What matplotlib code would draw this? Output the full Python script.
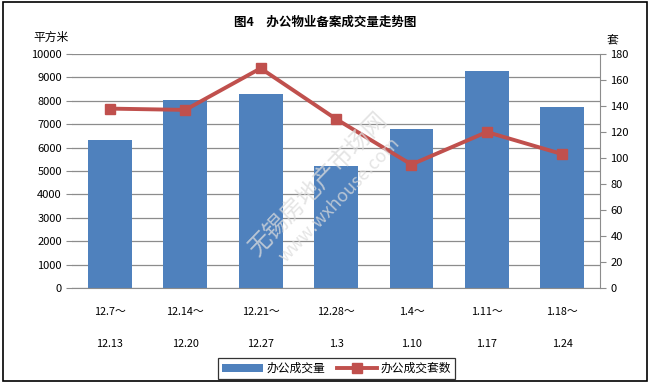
import numpy as np
import matplotlib
matplotlib.use('Agg')
import matplotlib.pyplot as plt
from matplotlib.patches import Rectangle

plt.rcParams['font.family'] = ['Noto Sans CJK SC', 'DejaVu Sans']

WEEK_START = ['12.7～', '12.14～', '12.21～', '12.28～', '1.4～', '1.11～', '1.18～']
WEEK_END = ['12.13', '12.20', '12.27', '1.3', '1.10', '1.17', '1.24']
AREA = [6330, 8050, 8280, 5230, 6790, 9290, 7730]      # 办公成交量 (平方米)
UNITS = [138, 137, 169, 130, 95, 120, 103]             # 办公成交套数 (套)

BAR_COLOR = '#4F81BD'
LINE_COLOR = '#C0504D'

fig = plt.figure(figsize=(6.5, 3.83), dpi=100)
ax = fig.add_axes([0.111, 0.248, 0.812, 0.611])
ax2 = ax.twinx()

x = np.arange(len(AREA))
ax.bar(x, AREA, width=0.58, color=BAR_COLOR, zorder=2, label='办公成交量')
ax2.plot(x, UNITS, color=LINE_COLOR, linewidth=2.8, marker='s', markersize=7,
         zorder=3, label='办公成交套数')

ax.set_xlim(-0.5, len(AREA) - 0.5)
ax.set_ylim(0, 10000)
ax.set_yticks(np.arange(0, 10001, 1000))
ax2.set_ylim(0, 180)
ax2.set_yticks(np.arange(0, 181, 20))

ax.grid(axis='y', color='#8C8C8C', linewidth=0.9, zorder=0)
ax.set_axisbelow(True)

labels = [a + '\n\n' + b for a, b in zip(WEEK_START, WEEK_END)]
ax.set_xticks(x)
ax.set_xticklabels(labels, fontsize=7.8, linespacing=1.75)
ax.tick_params(axis='x', length=0, pad=14)
ax.tick_params(axis='y', labelsize=8, color='#8C8C8C', length=4, direction='out')
ax2.tick_params(axis='y', labelsize=8, color='#8C8C8C', length=4, direction='out')

for a in (ax, ax2):
    for s in ('top', 'left'):
        a.spines[s].set_visible(False)
    a.spines['bottom'].set_color('#8C8C8C')
    a.spines['right'].set_color('#8C8C8C')
ax.spines['right'].set_visible(False)
ax2.spines['bottom'].set_visible(False)

fig.text(0.5, 0.943, '图4　办公物业备案成交量走势图', ha='center', va='center',
         fontsize=9, fontweight='bold')
fig.text(0.078, 0.903, '平方米', ha='center', va='center', fontsize=8.5)
fig.text(0.942, 0.893, '套', ha='center', va='center', fontsize=8.5)

# watermark
fig.text(0.489, 0.517, '无锡房地产市场网', rotation=46, ha='center', va='center',
         fontsize=17, color='#DCDCDC', alpha=0.75, zorder=5)
fig.text(0.522, 0.478, 'www.wxhouse.com', rotation=46, ha='center', va='center',
         fontsize=13, color='#DCDCDC', alpha=0.75, zorder=5)

h1, l1 = ax.get_legend_handles_labels()
h2, l2 = ax2.get_legend_handles_labels()
leg = fig.legend(h1 + h2, l1 + l2, loc='center', bbox_to_anchor=(0.518, 0.038),
                 ncol=2, fontsize=8.5, frameon=True, fancybox=False,
                 handlelength=3.4, handletextpad=0.3, columnspacing=1.0,
                 borderpad=0.35, edgecolor='black')
leg.get_frame().set_linewidth(0.9)

fig.patches.append(Rectangle((0.004, 0.004), 0.991, 0.99, transform=fig.transFigure,
                             fill=False, edgecolor='black', linewidth=1.2))

fig.savefig('out.png', dpi=100)
